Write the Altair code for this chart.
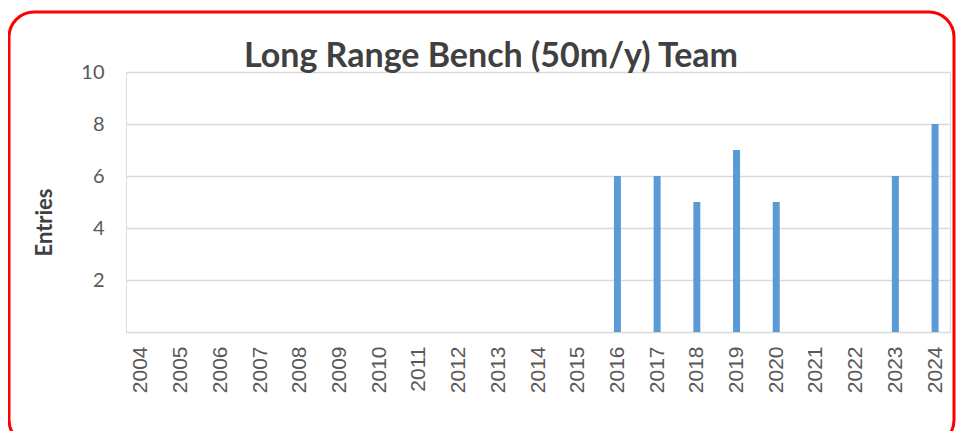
import altair as alt
import pandas as pd

years = list(range(2004, 2025))
entries = [0, 0, 0, 0, 0, 0, 0, 0, 0, 0, 0, 0, 6, 6, 5, 7, 5, 0, 0, 6, 8]
y_ticks = [2, 4, 6, 8, 10]
title_text = "Long Range Bench (50m/y) Team"

df = pd.DataFrame({"Year": years, "Entries": entries})
df = df[df["Entries"] > 0]

bars = alt.Chart(df).mark_bar(size=7, color="#5B9BD5").encode(
    x=alt.X(
        "Year:Q",
        scale=alt.Scale(domain=[2003.75, 2024.25], nice=False, zero=False),
        axis=alt.Axis(
            values=years,
            format="d",
            labelAngle=-90,
            labelAlign="right",
            labelBaseline="middle",
            labelFont="Liberation Sans",
            labelFontSize=21,
            labelColor="#595959",
            labelPadding=14,
            ticks=False,
            grid=False,
            domain=True,
            domainColor="#D9D9D9",
            domainWidth=1.5,
            title=None,
            labelOverlap=False,
        ),
    ),
    y=alt.Y(
        "Entries:Q",
        scale=alt.Scale(domain=[0, 10], nice=False),
        axis=alt.Axis(
            values=y_ticks,
            labelFont="Lato",
            labelFontSize=20,
            labelColor="#595959",
            labelPadding=22,
            ticks=False,
            domain=False,
            grid=True,
            gridColor="#D9D9D9",
            gridWidth=1.5,
            title="Entries",
            titleFont="Lato",
            titleFontSize=22,
            titleFontWeight="bold",
            titleColor="#404040",
            titleX=-82,
            titleY=150,
            titleAngle=-90,
            titleBaseline="middle",
            titleAlign="center",
        ),
    ),
)

frame = alt.Chart(alt.Data(values=[{}])).mark_rect(
    filled=False, stroke="#FF0000", strokeWidth=3, cornerRadius=25, clip=False
).encode(
    x=alt.value(-117), x2=alt.value(828), y=alt.value(-60), y2=alt.value(373)
)

chart = alt.layer(bars, frame).properties(
    width=824,
    height=260,
    padding={"left": 118, "top": 64, "right": 6, "bottom": 99},
    autosize=alt.AutoSizeParams(type="none"),
    title=alt.TitleParams(
        text=title_text,
        font="Lato",
        fontSize=34,
        fontWeight="bold",
        color="#404040",
        anchor="middle",
        frame="group",
        dx=-47,
        dy=94,
        baseline="alphabetic",
        offset=4,
    ),
).configure_view(strokeWidth=0, stroke="transparent").configure(background="white")

chart.save("out.html", embed_options={"renderer": "svg", "actions": False})
